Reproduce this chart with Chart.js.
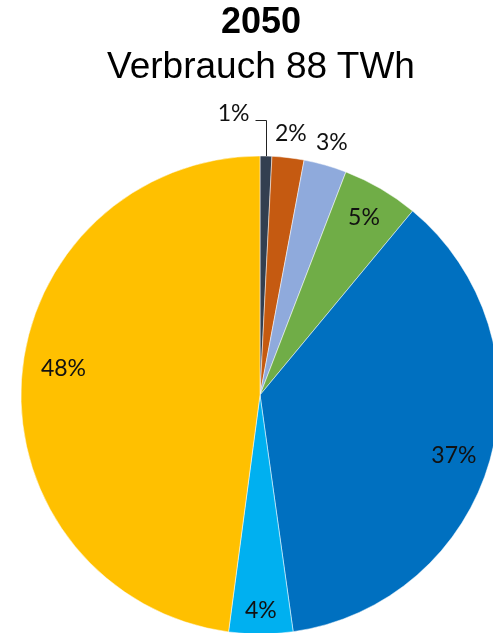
<!DOCTYPE html>
<html lang="de">
<head>
<meta charset="utf-8">
<title>Verbrauch 2050</title>
<script src="https://cdn.jsdelivr.net/npm/chart.js@4.4.1/dist/chart.umd.min.js"></script>
<style>
  html, body { margin: 0; padding: 0; background: #fff; overflow: hidden; }
  body { width: 493px; height: 633px; position: relative; }
  .head { position: absolute; left: 0; width: 522px; text-align: center; line-height: 1;
          font-family: "Liberation Sans", Arial, sans-serif; color: #000; white-space: nowrap; }
  #year { top: 3px; font-size: 36px; font-weight: bold; }
  #sub { top: 47px; font-size: 37px; }
  .pie-wrap { position: absolute; left: 0; top: 0; width: 520px; height: 660px; }
</style>
</head>
<body>
<div class="pie-wrap"><canvas id="pie"></canvas></div>
<div class="head" id="year"></div>
<div class="head" id="sub"></div>

<script>
// consumption shares in TWh, clockwise from 12 o'clock
const titleYear = '2050';
const subtitle = 'Verbrauch 88 TWh';
const categories = ['Segment 1', 'Segment 2', 'Segment 3', 'Segment 4', 'Segment 5', 'Segment 6', 'Segment 7'];
const valuesTWh = [0.7, 1.9, 2.55, 4.55, 32.35, 3.8, 42.15];
const sliceColors = ['#333F50', '#C55A11', '#8FAADC', '#70AD47', '#0070C0', '#00B0F0', '#FFC000'];

// where each percentage label goes: fraction of the radius, small angle nudge (deg), callout line
const labelPlacement = [
  { r: 1.15, callout: true },
  { r: 1.10 },
  { r: 1.10 },
  { r: 0.86 },
  { r: 0.85, turn: 1.5 },
  { r: 0.90 },
  { r: 0.83, turn: 4 }
];

document.getElementById('year').textContent = titleYear;
document.getElementById('sub').textContent = subtitle;

const sliceLabels = {
  id: 'sliceLabels',
  afterDatasetsDraw(chart) {
    const ctx = chart.ctx;
    const data = chart.data.datasets[0].data;
    const sum = data.reduce((a, b) => a + b, 0);
    const meta = chart.getDatasetMeta(0);
    ctx.save();
    ctx.font = '23px Lato, "Open Sans", sans-serif';
    ctx.fillStyle = '#111';
    ctx.strokeStyle = '#222';
    ctx.lineWidth = 1;
    ctx.textBaseline = 'middle';
    meta.data.forEach((arc, i) => {
      const p = arc.getProps(['x', 'y', 'startAngle', 'endAngle', 'outerRadius'], true);
      const place = labelPlacement[i];
      const mid = (p.startAngle + p.endAngle) / 2 + (place.turn || 0) * Math.PI / 180;
      const text = Math.round(data[i] / sum * 100) + '%';
      if (place.callout) {
        const ex = Math.round(p.x + Math.cos(mid) * p.outerRadius) + 0.5;
        const ey = p.y + Math.sin(mid) * p.outerRadius;
        const ky = Math.round(p.y - p.outerRadius * place.r) + 0.5;
        ctx.beginPath();
        ctx.moveTo(ex, ey);
        ctx.lineTo(ex, ky);
        ctx.lineTo(ex - 11, ky);
        ctx.stroke();
        ctx.textAlign = 'right';
        ctx.fillText(text, ex - 17, ky - 7);
      } else {
        const d = p.outerRadius * place.r;
        ctx.textAlign = 'center';
        ctx.fillText(text, p.x + Math.cos(mid) * d, p.y + Math.sin(mid) * d);
      }
    });
    ctx.restore();
  }
};

new Chart(document.getElementById('pie'), {
  type: 'pie',
  data: {
    labels: categories,
    datasets: [{
      data: valuesTWh,
      backgroundColor: sliceColors,
      borderColor: '#ffffff',
      borderWidth: 0.5,
      hoverOffset: 0
    }]
  },
  options: {
    responsive: true,
    maintainAspectRatio: false,
    animation: false,
    events: [],
    radius: 239,
    layout: { padding: { left: 21, top: 156, right: 21, bottom: 26 } },
    plugins: {
      legend: { display: false },
      tooltip: { enabled: false },
      title: { display: false }
    }
  },
  plugins: [sliceLabels]
});
</script>
</body>
</html>
